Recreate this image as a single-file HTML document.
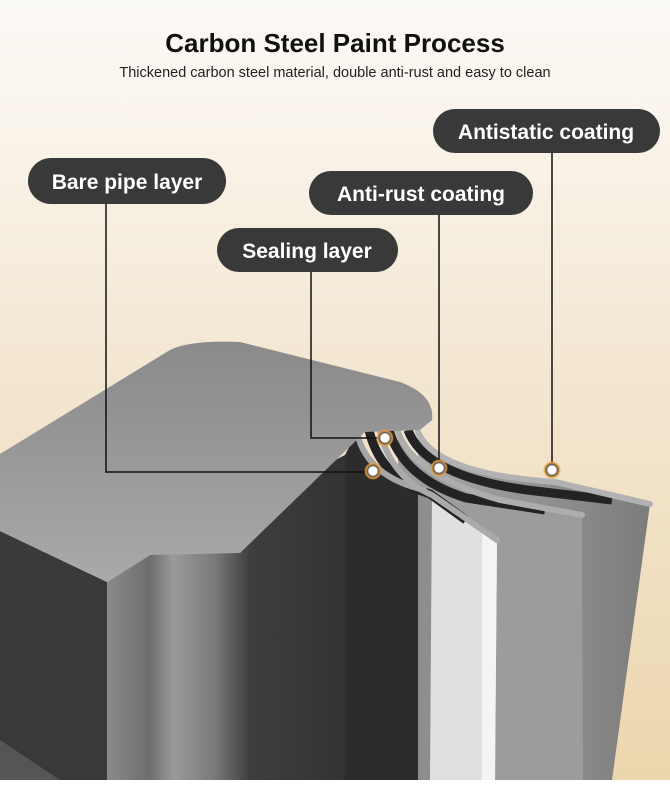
<!DOCTYPE html>
<html><head><style>
body{margin:0;width:670px;height:780px;overflow:hidden;font-family:"Liberation Sans",sans-serif}
</style></head><body>
<svg width="670" height="780" viewBox="0 0 670 780" xmlns="http://www.w3.org/2000/svg">
<defs>
<linearGradient id="bg" x1="0" y1="0" x2="0" y2="1"><stop offset="0" stop-color="#fcfaf7"/><stop offset="0.5" stop-color="#f3e6d0"/><stop offset="1" stop-color="#ecd6ad"/></linearGradient>
<linearGradient id="top" x1="0" y1="0" x2="0" y2="1"><stop offset="0" stop-color="#8a8a8a"/><stop offset="1" stop-color="#a9a9a9"/></linearGradient>
<linearGradient id="front" x1="0" y1="0" x2="1" y2="0"><stop offset="0" stop-color="#8a8a8a"/><stop offset="0.18" stop-color="#6e6e6e"/><stop offset="0.28" stop-color="#9a9a9a"/><stop offset="0.45" stop-color="#7a7a7a"/><stop offset="0.6" stop-color="#3e3e3e"/><stop offset="1" stop-color="#333"/></linearGradient>
<linearGradient id="rp" x1="0" y1="0" x2="1" y2="0"><stop offset="0" stop-color="#a8a8a8"/><stop offset="1" stop-color="#7c7c7c"/></linearGradient>
<radialGradient id="dot"><stop offset="0.45" stop-color="#fff"/><stop offset="0.6" stop-color="#555"/><stop offset="0.8" stop-color="#e59a3a"/><stop offset="1" stop-color="#e59a3a" stop-opacity="0"/></radialGradient>
</defs>
<rect width="670" height="780" fill="url(#bg)"/>
<text x="335" y="52" text-anchor="middle" font-size="26" font-weight="bold" fill="#111">Carbon Steel Paint Process</text>
<text x="335" y="77" text-anchor="middle" font-size="14.5" fill="#222">Thickened carbon steel material, double anti-rust and easy to clean</text>

<!-- layers back to front -->
<path d="M418,432 Q436,474 555,482 L650,504 L612,780 L418,780 Z" fill="url(#rp)"/>
<path d="M398,432 Q414,476 500,500 L582,515 L583,780 L398,780 Z" fill="#9c9c9c"/>
<path d="M380,432 Q392,478 432,495 L497,540 L495,780 L380,780 Z" fill="#e0e0e0"/>
<polygon points="482,531 497,540 495,780 482,780" fill="#f4f4f4"/>
<path d="M357,432 Q366,476 425,490 L432,494 L430,780 L357,780 Z" fill="#8e8e8e"/>
<path d="M345,455 L357,432 Q366,476 418,488 L418,780 L345,780 Z" fill="#2c2c2c"/>
<!-- gaps -->
<g fill="none" stroke="#232323" stroke-width="9">
<path d="M369,430 Q380,478 430,494 L466,520"/>
<path d="M389,430 Q403,478 466,498 L545,510"/>
<path d="M408,430 Q425,476 527,490 L612,500"/>
</g>
<!-- arc tops -->
<g fill="none" stroke-linecap="round">
<path d="M357,432 Q366,476 424,490" stroke="#a5a5a5" stroke-width="6"/>
<path d="M380,432 Q392,478 432,495 L497,540" stroke="#aaaaaa" stroke-width="6"/>
<path d="M398,432 Q414,476 500,500 L582,515" stroke="#adadad" stroke-width="6"/>
<path d="M418,432 Q436,474 555,482 L650,504" stroke="#b2b2b2" stroke-width="6"/>
</g>
<!-- left dark face -->
<polygon points="0,531 107,582 107,780 0,780" fill="#3a3a3a"/>
<!-- front face -->
<polygon points="107,582 150,555 345,455 345,780 107,780" fill="url(#front)"/>
<!-- top face -->
<path d="M0,454 L170,350 Q190,340 240,342 L400,382 Q435,395 432,420 L420,430 L365,432 L240,553 L150,555 L107,582 L0,531 Z" fill="url(#top)"/>
<polygon points="0,740 60,780 0,780" fill="#555"/>

<!-- connectors -->
<g stroke="#111" stroke-width="1.5" fill="none">
<polyline points="106,204 106,472 373,472"/>
<polyline points="311,272 311,438 385,438"/>
<polyline points="439,215 439,468"/>
<polyline points="552,153 552,470"/>
</g>
<g fill="url(#dot)">
<circle cx="373" cy="471" r="9"/><circle cx="385" cy="438" r="9"/><circle cx="439" cy="468" r="9"/><circle cx="552" cy="470" r="9"/>
</g>

<!-- labels -->
<g fill="#393939">
<rect x="28" y="158" width="198" height="46" rx="23"/>
<rect x="217" y="228" width="181" height="44" rx="22"/>
<rect x="309" y="171" width="224" height="44" rx="22"/>
<rect x="433" y="109" width="227" height="44" rx="22"/>
</g>
<g fill="#fff" font-size="21" font-weight="bold" text-anchor="middle">
<text x="127" y="189">Bare pipe layer</text>
<text x="307" y="258">Sealing layer</text>
<text x="421" y="201">Anti-rust coating</text>
<text x="546" y="139">Antistatic coating</text>
</g>
</svg>
</body></html>
